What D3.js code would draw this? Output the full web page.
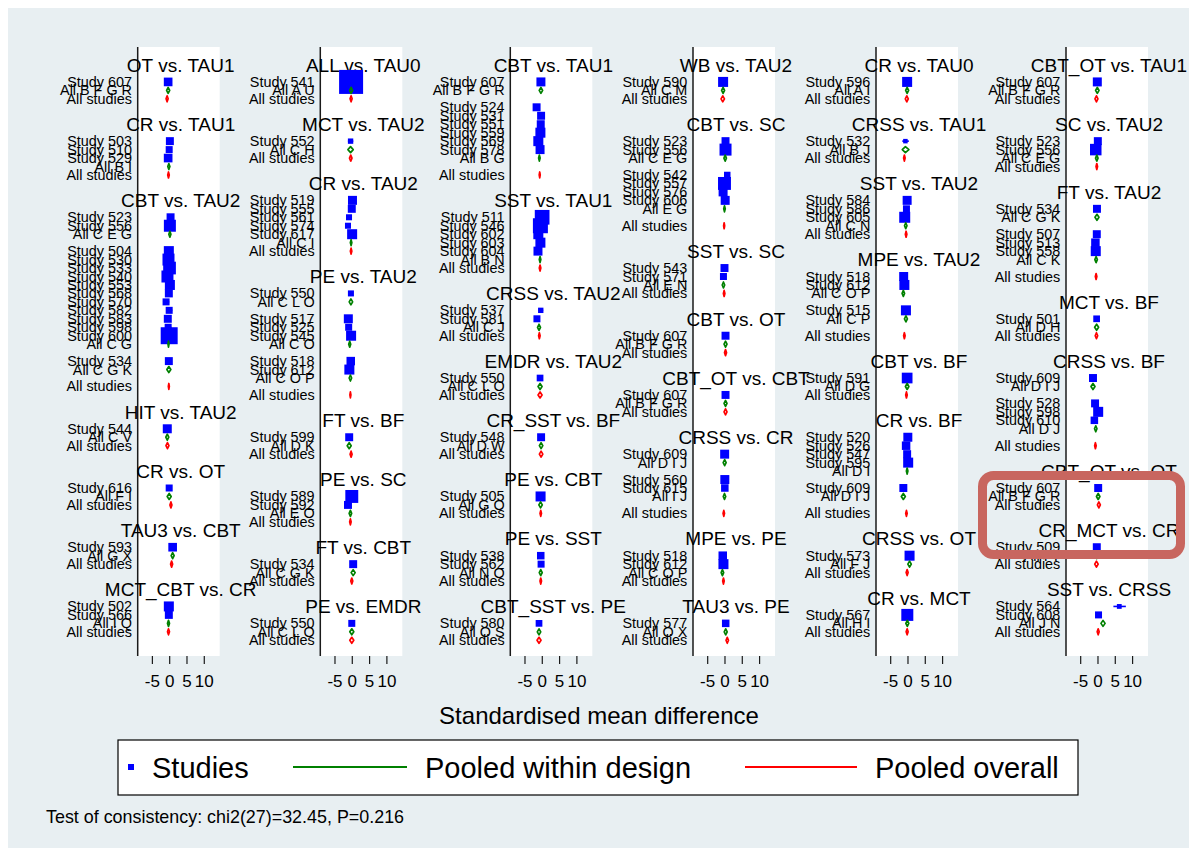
<!DOCTYPE html>
<html>
<head>
<meta charset="utf-8">
<script src="https://cdn.jsdelivr.net/npm/d3@7"></script>
<style>
  body { margin: 0; background: #fff; }
  svg { display: block; }
  text { font-family: "Liberation Sans", Arial, Helvetica, sans-serif; fill: #000; }
</style>
</head>
<body>
<svg id="chart" width="1197" height="856"></svg>
<script>
// ---- comparisons and the panel column each one sits in ----
const comparisons = [
  ["OT vs. TAU1", 1], ["CR vs. TAU1", 1], ["CBT vs. TAU2", 1], ["HIT vs. TAU2", 1],
  ["CR vs. OT", 1], ["TAU3 vs. CBT", 1], ["MCT_CBT vs. CR", 1],
  ["ALL vs. TAU0", 2], ["MCT vs. TAU2", 2], ["CR vs. TAU2", 2], ["PE vs. TAU2", 2],
  ["FT vs. BF", 2], ["PE vs. SC", 2], ["FT vs. CBT", 2], ["PE vs. EMDR", 2],
  ["CBT vs. TAU1", 3], ["SST vs. TAU1", 3], ["CRSS vs. TAU2", 3], ["EMDR vs. TAU2", 3],
  ["CR_SST vs. BF", 3], ["PE vs. CBT", 3], ["PE vs. SST", 3], ["CBT_SST vs. PE", 3],
  ["WB vs. TAU2", 4], ["CBT vs. SC", 4], ["SST vs. SC", 4], ["CBT vs. OT", 4],
  ["CBT_OT vs. CBT", 4], ["CRSS vs. CR", 4], ["MPE vs. PE", 4], ["TAU3 vs. PE", 4],
  ["CR vs. TAU0", 5], ["CRSS vs. TAU1", 5], ["SST vs. TAU2", 5], ["MPE vs. TAU2", 5],
  ["CBT vs. BF", 5], ["CR vs. BF", 5], ["CRSS vs. OT", 5], ["CR vs. MCT", 5],
  ["CBT_OT vs. TAU1", 6], ["SC vs. TAU2", 6], ["FT vs. TAU2", 6], ["MCT vs. BF", 6],
  ["CRSS vs. BF", 6], ["CBT_OT vs. OT", 6], ["CR_MCT vs. CR", 6], ["SST vs. CRSS", 6]
];

// ---- pooled within design: [comparison, design, estimate, lower, upper] ----
const designPooled = [
  ["OT vs. TAU1", "B F G R", -0.3, -0.75, 0.15],
  ["CR vs. TAU1", "B I", -0.1, -0.4, 0.2],
  ["CBT vs. TAU2", "C E G", 0.2, -0.1, 0.5],
  ["CBT vs. TAU2", "C G", -0.2, -0.35, -0.05],
  ["CBT vs. TAU2", "C G K", -0.1, -0.68, 0.48],
  ["HIT vs. TAU2", "C V", -0.55, -0.98, -0.12],
  ["CR vs. OT", "F I", 0.0, -0.58, 0.58],
  ["TAU3 vs. CBT", "G X", 1.0, 0.57, 1.43],
  ["MCT_CBT vs. CR", "I Q", -0.2, -0.49, 0.09],
  ["ALL vs. TAU0", "A U", -0.2, -0.63, 0.23],
  ["MCT vs. TAU2", "C H", -0.35, -1.12, 0.42],
  ["CR vs. TAU2", "C I", -0.2, -0.42, 0.02],
  ["PE vs. TAU2", "C L O", -0.25, -0.75, 0.25],
  ["PE vs. TAU2", "C O", -0.6, -0.89, -0.31],
  ["PE vs. TAU2", "C O P", -0.4, -0.76, -0.04],
  ["FT vs. BF", "D K", -0.75, -1.33, -0.17],
  ["PE vs. SC", "E O", -0.4, -0.76, -0.04],
  ["FT vs. CBT", "C G K", 0.4, -0.18, 0.98],
  ["PE vs. EMDR", "C L O", 0.0, -0.58, 0.58],
  ["CBT vs. TAU1", "B F G R", -0.25, -0.75, 0.25],
  ["CBT vs. TAU1", "B G", -0.7, -0.92, -0.48],
  ["SST vs. TAU1", "B N", -0.5, -0.72, -0.28],
  ["CRSS vs. TAU2", "C J", -0.8, -1.23, -0.37],
  ["EMDR vs. TAU2", "C L O", -0.5, -1.08, 0.08],
  ["CR_SST vs. BF", "D W", -0.2, -0.7, 0.3],
  ["PE vs. CBT", "G O", -0.35, -0.85, 0.15],
  ["PE vs. SST", "N O", -0.3, -0.73, 0.13],
  ["CBT_SST vs. PE", "O S", -0.8, -1.3, -0.3],
  ["WB vs. TAU2", "C M", -0.4, -0.83, 0.03],
  ["CBT vs. SC", "C E G", 0.2, -0.16, 0.56],
  ["CBT vs. SC", "E G", 0.0, -0.22, 0.22],
  ["SST vs. SC", "E N", -0.3, -0.66, 0.06],
  ["CBT vs. OT", "B F G R", 0.3, -0.13, 0.73],
  ["CBT_OT vs. CBT", "B F G R", 0.3, -0.13, 0.73],
  ["CRSS vs. CR", "D I J", 0.05, -0.38, 0.48],
  ["CRSS vs. CR", "I J", 0.0, -0.36, 0.36],
  ["MPE vs. PE", "C O P", -0.6, -0.96, -0.24],
  ["TAU3 vs. PE", "O X", 0.35, -0.08, 0.78],
  ["CR vs. TAU0", "A I", -0.1, -0.53, 0.33],
  ["CRSS vs. TAU1", "B J", -0.6, -1.5, 0.4],
  ["SST vs. TAU2", "C N", -0.5, -0.86, -0.14],
  ["MPE vs. TAU2", "C O P", -1.2, -1.56, -0.84],
  ["MPE vs. TAU2", "C P", -0.45, -0.88, -0.02],
  ["CBT vs. BF", "D G", -0.1, -0.6, 0.4],
  ["CR vs. BF", "D I", -0.1, -0.32, 0.12],
  ["CR vs. BF", "D I J", -1.2, -1.78, -0.62],
  ["CRSS vs. OT", "F J", 0.6, 0.1, 1.1],
  ["CR vs. MCT", "H I", -0.05, -0.48, 0.38],
  ["CBT_OT vs. TAU1", "B F G R", -0.05, -0.55, 0.45],
  ["SC vs. TAU2", "C E G", -0.2, -0.56, 0.16],
  ["FT vs. TAU2", "C G K", -0.15, -0.73, 0.43],
  ["FT vs. TAU2", "C K", -0.4, -0.76, -0.04],
  ["MCT vs. BF", "D H", -0.25, -0.83, 0.33],
  ["CRSS vs. BF", "D I J", -1.3, -1.88, -0.72],
  ["CRSS vs. BF", "D J", -0.5, -0.86, -0.14],
  ["CBT_OT vs. OT", "B F G R", 0.2, -0.3, 0.7],
  ["CR_MCT vs. CR", "I T", -0.2, -0.7, 0.3],
  ["SST vs. CRSS", "J N", 1.6, 1.0, 2.2]
];

// ---- individual studies: [comparison, design, study, estimate, lower, upper, weight] ----
const studies = [
  ["OT vs. TAU1", "B F G R", "Study 607", -0.3, -0.75, 0.15, 13],
  ["CR vs. TAU1", "B I", "Study 503", 0.2, -0.5, 0.9, 11],
  ["CR vs. TAU1", "B I", "Study 510", 0.0, -0.8, 0.8, 8.5],
  ["CR vs. TAU1", "B I", "Study 529", -0.3, -0.9, 0.3, 13],
  ["CBT vs. TAU2", "C E G", "Study 523", 0.4, -0.6, 1.4, 11],
  ["CBT vs. TAU2", "C E G", "Study 556", 0.2, -0.4, 0.8, 25],
  ["CBT vs. TAU2", "C G", "Study 504", -0.1, -0.7, 0.5, 17.4],
  ["CBT vs. TAU2", "C G", "Study 530", -0.2, -0.7, 0.3, 25],
  ["CBT vs. TAU2", "C G", "Study 533", 0.1, -0.4, 0.6, 28],
  ["CBT vs. TAU2", "C G", "Study 540", -0.5, -1.0, 0.0, 25],
  ["CBT vs. TAU2", "C G", "Study 553", 0.2, -0.4, 0.8, 17.4],
  ["CBT vs. TAU2", "C G", "Study 568", -0.1, -0.9, 0.7, 11],
  ["CBT vs. TAU2", "C G", "Study 570", -0.9, -1.8, 0.0, 8.5],
  ["CBT vs. TAU2", "C G", "Study 582", 0.0, -0.9, 0.9, 8.5],
  ["CBT vs. TAU2", "C G", "Study 583", -0.4, -1.2, 0.4, 11],
  ["CBT vs. TAU2", "C G", "Study 598", -0.3, -1.2, 0.6, 8.5],
  ["CBT vs. TAU2", "C G", "Study 600", 0.0, -0.3, 0.3, 50],
  ["CBT vs. TAU2", "C G K", "Study 534", -0.1, -0.68, 0.48, 11],
  ["HIT vs. TAU2", "C V", "Study 544", -0.55, -0.98, -0.12, 14],
  ["CR vs. OT", "F I", "Study 616", 0.0, -0.58, 0.58, 8.5],
  ["TAU3 vs. CBT", "G X", "Study 593", 1.0, 0.57, 1.43, 13],
  ["MCT_CBT vs. CR", "I Q", "Study 502", -0.1, -0.8, 0.6, 17.4],
  ["MCT_CBT vs. CR", "I Q", "Study 566", -0.1, -0.9, 0.7, 11],
  ["ALL vs. TAU0", "A U", "Study 541", -0.2, -0.63, 0.23, 100],
  ["MCT vs. TAU2", "C H", "Study 552", -0.35, -1.12, 0.42, 5],
  ["CR vs. TAU2", "C I", "Study 519", 0.2, -0.5, 0.9, 14],
  ["CR vs. TAU2", "C I", "Study 555", 0.0, -0.8, 0.8, 11],
  ["CR vs. TAU2", "C I", "Study 561", -0.8, -1.6, 0.0, 6.3],
  ["CR vs. TAU2", "C I", "Study 574", -1.1, -1.9, -0.3, 6.3],
  ["CR vs. TAU2", "C I", "Study 617", 0.1, -0.5, 0.7, 17.4],
  ["PE vs. TAU2", "C L O", "Study 550", -0.25, -0.75, 0.25, 6.3],
  ["PE vs. TAU2", "C O", "Study 517", -1.0, -1.6, -0.4, 14],
  ["PE vs. TAU2", "C O", "Study 525", -0.9, -1.7, -0.1, 8.5],
  ["PE vs. TAU2", "C O", "Study 545", -0.2, -0.8, 0.4, 17.4],
  ["PE vs. TAU2", "C O P", "Study 518", -0.3, -1.0, 0.4, 12.5],
  ["PE vs. TAU2", "C O P", "Study 612", -0.7, -1.3, -0.1, 17.4],
  ["FT vs. BF", "D K", "Study 599", -0.75, -1.33, -0.17, 11],
  ["PE vs. SC", "E O", "Study 589", 0.0, -0.5, 0.5, 29],
  ["PE vs. SC", "E O", "Study 592", -1.1, -1.9, -0.3, 11],
  ["FT vs. CBT", "C G K", "Study 534", 0.4, -0.18, 0.98, 11],
  ["PE vs. EMDR", "C L O", "Study 550", 0.0, -0.58, 0.58, 8.5],
  ["CBT vs. TAU1", "B F G R", "Study 607", -0.25, -0.75, 0.25, 14],
  ["CBT vs. TAU1", "B G", "Study 524", -1.5, -2.3, -0.7, 11],
  ["CBT vs. TAU1", "B G", "Study 531", -0.2, -1.0, 0.6, 11],
  ["CBT vs. TAU1", "B G", "Study 551", -0.3, -1.1, 0.5, 11],
  ["CBT vs. TAU1", "B G", "Study 559", -0.4, -1.0, 0.2, 17.4],
  ["CBT vs. TAU1", "B G", "Study 569", -1.0, -1.6, -0.4, 17.4],
  ["CBT vs. TAU1", "B G", "Study 578", -0.5, -1.2, 0.2, 14],
  ["SST vs. TAU1", "B N", "Study 511", 0.1, -0.4, 0.6, 37.5],
  ["SST vs. TAU1", "B N", "Study 546", -0.4, -0.9, 0.1, 39],
  ["SST vs. TAU1", "B N", "Study 602", -1.0, -1.6, -0.4, 17.4],
  ["SST vs. TAU1", "B N", "Study 603", -0.4, -1.0, 0.2, 17.4],
  ["SST vs. TAU1", "B N", "Study 604", -1.1, -1.7, -0.5, 14],
  ["CRSS vs. TAU2", "C J", "Study 537", -0.3, -1.0, 0.4, 5],
  ["CRSS vs. TAU2", "C J", "Study 581", -1.4, -2.2, -0.6, 8.5],
  ["EMDR vs. TAU2", "C L O", "Study 550", -0.5, -1.08, 0.08, 7.8],
  ["CR_SST vs. BF", "D W", "Study 548", -0.2, -0.7, 0.3, 11],
  ["PE vs. CBT", "G O", "Study 505", -0.35, -0.85, 0.15, 17.4],
  ["PE vs. SST", "N O", "Study 538", -0.3, -1.1, 0.5, 9.8],
  ["PE vs. SST", "N O", "Study 562", -0.2, -1.0, 0.6, 8.5],
  ["CBT_SST vs. PE", "O S", "Study 580", -0.8, -1.3, -0.3, 7.8],
  ["WB vs. TAU2", "C M", "Study 590", -0.4, -0.83, 0.03, 17.4],
  ["CBT vs. SC", "C E G", "Study 523", 0.3, -0.5, 1.1, 11],
  ["CBT vs. SC", "C E G", "Study 556", 0.3, -0.3, 0.9, 25],
  ["CBT vs. SC", "E G", "Study 542", 0.8, 0.0, 1.6, 7.3],
  ["CBT vs. SC", "E G", "Study 557", 0.0, -0.5, 0.5, 29],
  ["CBT vs. SC", "E G", "Study 576", -0.4, -1.1, 0.3, 14],
  ["CBT vs. SC", "E G", "Study 606", 0.2, -0.5, 0.9, 14],
  ["SST vs. SC", "E N", "Study 543", 0.0, -0.8, 0.8, 11],
  ["SST vs. SC", "E N", "Study 571", -0.3, -1.1, 0.5, 8.5],
  ["CBT vs. OT", "B F G R", "Study 607", 0.3, -0.13, 0.73, 11],
  ["CBT_OT vs. CBT", "B F G R", "Study 607", 0.3, -0.13, 0.73, 11],
  ["CRSS vs. CR", "D I J", "Study 609", 0.05, -0.38, 0.48, 14],
  ["CRSS vs. CR", "I J", "Study 560", 0.1, -0.6, 0.8, 14],
  ["CRSS vs. CR", "I J", "Study 615", 0.1, -0.7, 0.9, 9.8],
  ["MPE vs. PE", "C O P", "Study 518", -0.5, -1.2, 0.2, 12.5],
  ["MPE vs. PE", "C O P", "Study 612", -0.3, -0.9, 0.3, 17.4],
  ["TAU3 vs. PE", "O X", "Study 577", 0.35, -0.08, 0.78, 9.8],
  ["CR vs. TAU0", "A I", "Study 596", -0.1, -0.53, 0.33, 17.4],
  ["CRSS vs. TAU1", "B J", "Study 532", -0.6, -1.5, 0.4, 3.5],
  ["SST vs. TAU2", "C N", "Study 584", -0.1, -0.8, 0.6, 14],
  ["SST vs. TAU2", "C N", "Study 586", -0.3, -1.1, 0.5, 8.5],
  ["SST vs. TAU2", "C N", "Study 605", -0.8, -1.4, -0.2, 21],
  ["MPE vs. TAU2", "C O P", "Study 518", -1.1, -1.8, -0.4, 14],
  ["MPE vs. TAU2", "C O P", "Study 612", -0.9, -1.5, -0.3, 17.4],
  ["MPE vs. TAU2", "C P", "Study 515", -0.45, -0.88, -0.02, 17.4],
  ["CBT vs. BF", "D G", "Study 591", -0.1, -0.6, 0.4, 19.9],
  ["CR vs. BF", "D I", "Study 520", 0.1, -0.6, 0.8, 14],
  ["CR vs. BF", "D I", "Study 526", -0.4, -1.1, 0.3, 12.5],
  ["CR vs. BF", "D I", "Study 547", -0.1, -0.9, 0.7, 11],
  ["CR vs. BF", "D I", "Study 595", 0.2, -0.4, 0.8, 17.4],
  ["CR vs. BF", "D I J", "Study 609", -1.2, -1.78, -0.62, 11],
  ["CRSS vs. OT", "F J", "Study 573", 0.6, 0.1, 1.1, 17.4],
  ["CR vs. MCT", "H I", "Study 567", -0.05, -0.48, 0.38, 25],
  ["CBT_OT vs. TAU1", "B F G R", "Study 607", -0.05, -0.55, 0.45, 14],
  ["SC vs. TAU2", "C E G", "Study 523", 0.1, -0.7, 0.9, 11],
  ["SC vs. TAU2", "C E G", "Study 556", -0.5, -1.1, 0.1, 23],
  ["FT vs. TAU2", "C G K", "Study 534", -0.15, -0.73, 0.43, 11],
  ["FT vs. TAU2", "C K", "Study 507", -0.2, -1.0, 0.6, 11],
  ["FT vs. TAU2", "C K", "Study 513", -0.6, -1.3, 0.1, 12.5],
  ["FT vs. TAU2", "C K", "Study 558", -0.5, -1.1, 0.1, 17.4],
  ["MCT vs. BF", "D H", "Study 501", -0.25, -0.83, 0.33, 7.8],
  ["CRSS vs. BF", "D I J", "Study 609", -1.3, -1.88, -0.72, 11],
  ["CRSS vs. BF", "D J", "Study 528", -0.7, -1.5, 0.1, 11],
  ["CRSS vs. BF", "D J", "Study 598", 0.2, -0.4, 0.8, 17.4],
  ["CRSS vs. BF", "D J", "Study 610", -0.9, -1.7, -0.1, 9.8],
  ["CBT_OT vs. OT", "B F G R", "Study 607", 0.2, -0.3, 0.7, 11],
  ["CR_MCT vs. CR", "I T", "Study 509", -0.2, -0.7, 0.3, 11],
  ["SST vs. CRSS", "J N", "Study 564", 6.3, 4.6, 8.2, 4],
  ["SST vs. CRSS", "J N", "Study 608", 0.3, -0.5, 1.1, 8.5]
];

// ---- pooled over all studies: [comparison, estimate, lower, upper] ----
const overallPooled = [
  ["OT vs. TAU1", -0.6, -0.9, -0.3], ["CR vs. TAU1", -0.2, -0.42, 0.02],
  ["CBT vs. TAU2", -0.1, -0.25, 0.05], ["HIT vs. TAU2", -0.5, -0.93, -0.07],
  ["CR vs. OT", 0.5, 0.21, 0.79], ["TAU3 vs. CBT", 0.7, 0.41, 0.99],
  ["MCT_CBT vs. CR", -0.2, -0.49, 0.09],
  ["ALL vs. TAU0", -0.2, -0.5, 0.1], ["MCT vs. TAU2", -0.3, -0.66, 0.06],
  ["CR vs. TAU2", -0.2, -0.42, 0.02], ["PE vs. TAU2", -0.4, -0.55, -0.25],
  ["FT vs. BF", -0.2, -0.49, 0.09], ["PE vs. SC", -0.4, -0.62, -0.18],
  ["FT vs. CBT", 0.0, -0.29, 0.29], ["PE vs. EMDR", 0.0, -0.58, 0.58],
  ["CBT vs. TAU1", -0.6, -0.75, -0.45], ["SST vs. TAU1", -0.5, -0.72, -0.28],
  ["CRSS vs. TAU2", -0.7, -0.92, -0.48], ["EMDR vs. TAU2", -0.5, -1.08, 0.08],
  ["CR_SST vs. BF", -0.2, -0.7, 0.3], ["PE vs. CBT", -0.3, -0.52, -0.08],
  ["PE vs. SST", -0.3, -0.52, -0.08], ["CBT_SST vs. PE", -0.8, -1.38, -0.22],
  ["WB vs. TAU2", -0.5, -1.0, 0.0], ["CBT vs. SC", -0.1, -0.25, 0.05],
  ["SST vs. SC", -0.1, -0.32, 0.12], ["CBT vs. OT", 0.3, 0.01, 0.59],
  ["CBT_OT vs. CBT", 0.3, -0.13, 0.73], ["CRSS vs. CR", -0.2, -0.42, 0.02],
  ["MPE vs. PE", -0.3, -0.52, -0.08], ["TAU3 vs. PE", 0.8, 0.44, 1.16],
  ["CR vs. TAU0", -0.2, -0.63, 0.23], ["CRSS vs. TAU1", -0.9, -1.12, -0.68],
  ["SST vs. TAU2", -0.4, -0.62, -0.18], ["MPE vs. TAU2", -0.9, -1.12, -0.68],
  ["CBT vs. BF", -0.3, -0.52, -0.08], ["CR vs. BF", -0.3, -0.52, -0.08],
  ["CRSS vs. OT", -0.1, -0.39, 0.19], ["CR vs. MCT", -0.1, -0.39, 0.19],
  ["CBT_OT vs. TAU1", -0.3, -0.73, 0.13], ["SC vs. TAU2", -0.2, -0.42, 0.02],
  ["FT vs. TAU2", -0.4, -0.62, -0.18], ["MCT vs. BF", -0.3, -0.66, 0.06],
  ["CRSS vs. BF", -0.6, -0.82, -0.38], ["CBT_OT vs. OT", 0.4, -0.03, 0.83],
  ["CR_MCT vs. CR", -0.3, -0.8, 0.2], ["SST vs. CRSS", 0.2, -0.09, 0.49]
];

const xTicks = [-5, 0, 5, 10];
const xTitle = "Standardised mean difference";
const legendLabels = ["Studies", "Pooled within design", "Pooled overall"];
const footnote = "Test of consistency: chi2(27)=32.45, P=0.216";

// ---- layout ----
const W = 1197, H = 856;
const colors = { study: "#0000ff", design: "#008000", overall: "#ff0000", axis: "#1a1a1a" };
const axisLeft = [137.7, 320.3, 510.3, 693, 876, 1066];  // x of each panel's left axis line
const plotW = 82, plotTop = 47, plotBottom = 656;
const xDomain = [-9.1, 14.6];
const rowY0 = 65, rowStep = 8.46;
const diamondHalfH = 3;

const svg = d3.select("#chart");
svg.append("rect").attr("width", W).attr("height", H).attr("fill", "#ffffff");
svg.append("rect").attr("x", 8).attr("y", 8).attr("width", W - 16).attr("height", H - 16)
  .attr("fill", "#e8eff2");

// turn the tables into display rows, one list per panel column
const rowsByCol = d3.range(6).map(() => []);
const nextRow = [0, 0, 0, 0, 0, 0];
comparisons.forEach(([comp, col]) => {
  const rows = rowsByCol[col - 1];
  let r = nextRow[col - 1];
  rows.push({ type: "title", label: comp, row: r });
  r += 2;
  const designs = designPooled.filter(d => d[0] === comp);
  designs.forEach((d, i) => {
    if (i > 0) r += 1;
    studies.filter(s => s[0] === comp && s[1] === d[1]).forEach(s => {
      rows.push({ type: "study", label: s[2], est: s[3], lo: s[4], hi: s[5], wt: s[6], row: r });
      r += 1;
    });
    rows.push({ type: "design", label: "All " + d[1], est: d[2], lo: d[3], hi: d[4], row: r });
    r += 1;
  });
  if (designs.length > 1) r += 1;
  const o = overallPooled.find(v => v[0] === comp);
  rows.push({ type: "overall", label: "All studies", est: o[1], lo: o[2], hi: o[3], row: r });
  nextRow[col - 1] = r + 3;
});

const size = d3.scaleSqrt().domain([0, 100]).range([0, 24]);
const y = d3.scaleLinear().domain([0, 1]).range([rowY0, rowY0 + rowStep]);

rowsByCol.forEach((rows, c) => {
  const x0 = axisLeft[c];
  const x = d3.scaleLinear().domain(xDomain).range([x0, x0 + plotW]);
  const g = svg.append("g");

  g.append("rect").attr("x", x0).attr("y", plotTop).attr("width", plotW)
    .attr("height", plotBottom - plotTop).attr("fill", "#ffffff");

  // x axis
  const ax = g.append("g").attr("transform", `translate(0,${plotBottom})`)
    .call(d3.axisBottom(x).tickValues(xTicks).tickSize(8).tickPadding(11).tickFormat(d => String(d)));
  ax.select(".domain").remove();
  ax.selectAll(".tick line").attr("stroke", colors.axis).attr("stroke-width", 1.2);
  ax.selectAll(".tick text").attr("font-size", 17).attr("fill", "#000")
    .style("font-family", '"Liberation Sans", Arial, sans-serif');

  // left axis line
  g.append("line").attr("x1", x0).attr("x2", x0).attr("y1", plotTop).attr("y2", plotBottom)
    .attr("stroke", colors.axis).attr("stroke-width", 1.5);

  // row labels and comparison titles
  rows.forEach(d => {
    if (d.type === "title") {
      g.append("text").attr("x", x0 + plotW / 2 + 2).attr("y", y(d.row) + 6.7)
        .attr("text-anchor", "middle").attr("font-size", 19).text(d.label);
    } else {
      g.append("text").attr("x", x0 - 5.7).attr("y", y(d.row) + 5)
        .attr("text-anchor", "end").attr("font-size", 14.4).text(d.label);
    }
  });

  // study confidence intervals and weighted squares
  const st = rows.filter(d => d.type === "study");
  g.selectAll(null).data(st).join("line")
    .attr("x1", d => x(d.lo)).attr("x2", d => x(d.hi))
    .attr("y1", d => y(d.row)).attr("y2", d => y(d.row))
    .attr("stroke", colors.study).attr("stroke-width", 1.6);
  g.selectAll(null).data(st).join("rect")
    .attr("x", d => x(d.est) - size(d.wt) / 2).attr("y", d => y(d.row) - size(d.wt) / 2)
    .attr("width", d => size(d.wt)).attr("height", d => size(d.wt))
    .attr("fill", colors.study);

  // pooled diamonds
  const pooled = rows.filter(d => d.type === "design" || d.type === "overall");
  g.selectAll(null).data(pooled).join("path")
    .attr("d", d => {
      const yy = y(d.row);
      return `M${x(d.lo)},${yy}L${x(d.est)},${yy - diamondHalfH}L${x(d.hi)},${yy}L${x(d.est)},${yy + diamondHalfH}Z`;
    })
    .attr("fill", "none").attr("stroke", d => d.type === "design" ? colors.design : colors.overall)
    .attr("stroke-width", 1.7).attr("stroke-linejoin", "round");
});

// x axis title
svg.append("text").attr("x", 599).attr("y", 724).attr("text-anchor", "middle")
  .attr("font-size", 24).text(xTitle);

// legend
const lg = svg.append("g");
lg.append("rect").attr("x", 118).attr("y", 740).attr("width", 960).attr("height", 55)
  .attr("fill", "#ffffff").attr("stroke", "#000").attr("stroke-width", 1.2);
lg.append("rect").attr("x", 128).attr("y", 764).attr("width", 6).attr("height", 6).attr("fill", colors.study);
lg.append("text").attr("x", 152).attr("y", 778).attr("font-size", 29).text(legendLabels[0]);
lg.append("line").attr("x1", 293).attr("x2", 407).attr("y1", 767).attr("y2", 767)
  .attr("stroke", colors.design).attr("stroke-width", 2);
lg.append("text").attr("x", 425).attr("y", 778).attr("font-size", 29).text(legendLabels[1]);
lg.append("line").attr("x1", 745).attr("x2", 857).attr("y1", 767).attr("y2", 767)
  .attr("stroke", colors.overall).attr("stroke-width", 2);
lg.append("text").attr("x", 875).attr("y", 778).attr("font-size", 29).text(legendLabels[2]);

// consistency test note
svg.append("text").attr("x", 46).attr("y", 823).attr("font-size", 17.9).text(footnote);

// highlight box around two comparisons in the last column
svg.append("rect").attr("x", 982.5).attr("y", 475.5).attr("width", 198).attr("height", 79)
  .attr("rx", 11).attr("ry", 11).attr("fill", "none")
  .attr("stroke", "#c8665f").attr("stroke-width", 9);
</script>
</body>
</html>
